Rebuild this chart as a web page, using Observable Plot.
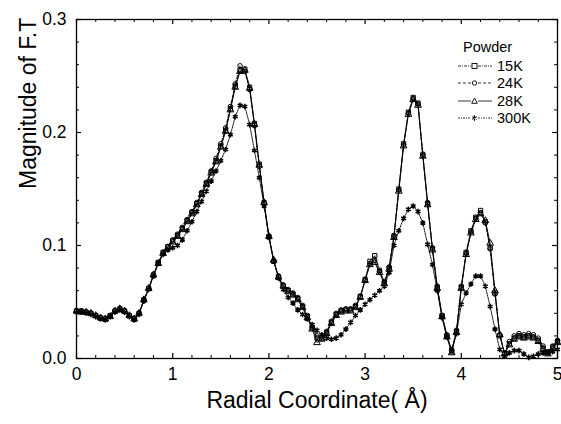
<!DOCTYPE html>
<html>
<head>
<meta charset="utf-8">
<script src="https://cdn.jsdelivr.net/npm/d3@7"></script>
<script src="https://cdn.jsdelivr.net/npm/@observablehq/plot@0.6"></script>
<style>
  html, body { margin: 0; padding: 0; background: #fff; }
  #wrap { position: relative; width: 561px; height: 424px; font-family: "Liberation Sans", Arial, sans-serif; }
  #legend { position: absolute; left: 456px; top: 38px; font-size: 14.5px; color: #000; }
  #legend .title { margin-left: 7px; height: 19px; line-height: 19px; }
  #legend .row { display: flex; align-items: center; height: 17.5px; }
  #legend svg { width: 38px; height: 12px; margin-right: 3px; }
</style>
</head>
<body>
<div id="wrap"><div id="chart"></div><div id="legend"></div></div>
<script>
// Radial coordinate (Å)
const radial = [0.00,0.05,0.10,0.15,0.20,0.25,0.30,0.35,0.40,0.45,0.50,0.55,0.60,0.65,0.70,0.75,0.80,0.85,0.90,0.95,
  1.00,1.05,1.10,1.15,1.20,1.25,1.30,1.35,1.40,1.45,1.50,1.55,1.60,1.65,1.70,1.75,1.80,1.85,1.90,1.95,
  2.00,2.05,2.10,2.15,2.20,2.25,2.30,2.35,2.40,2.45,2.50,2.55,2.60,2.65,2.70,2.75,2.80,2.85,2.90,2.95,
  3.00,3.05,3.10,3.15,3.20,3.25,3.30,3.35,3.40,3.45,3.50,3.55,3.60,3.65,3.70,3.75,3.80,3.85,3.90,3.95,
  4.00,4.05,4.10,4.15,4.20,4.25,4.30,4.35,4.40,4.45,4.50,4.55,4.60,4.65,4.70,4.75,4.80,4.85,4.90,4.95,5.00];

const ft15K = [.042,.042,.041,.040,.038,.036,.035,.038,.042,.044,.042,.038,.035,.040,.052,.062,.074,.085,.094,.099,
  .104,.109,.115,.122,.129,.137,.146,.155,.165,.175,.188,.202,.221,.241,.255,.256,.240,.208,.172,.138,
  .108,.086,.072,.064,.060,.057,.053,.046,.037,.027,.018,.018,.023,.032,.039,.042,.043,.043,.046,.055,
  .070,.086,.091,.078,.067,.080,.108,.150,.190,.218,.231,.226,.180,.137,.097,.063,.038,.020,.006,.024,
  .063,.094,.113,.125,.131,.121,.098,.058,.020,.004,.013,.018,.020,.019,.020,.019,.016,.009,.005,.010,.015];

const ft24K = [.042,.042,.041,.040,.038,.036,.035,.038,.042,.044,.042,.038,.035,.040,.051,.062,.073,.085,.093,.099,
  .105,.110,.116,.123,.130,.138,.147,.156,.166,.177,.190,.204,.223,.243,.259,.254,.238,.206,.170,.137,
  .107,.086,.073,.065,.061,.058,.054,.047,.038,.028,.020,.019,.024,.033,.040,.043,.044,.044,.047,.055,
  .069,.084,.087,.077,.068,.081,.109,.149,.189,.217,.230,.225,.181,.138,.098,.064,.038,.021,.007,.025,
  .064,.093,.112,.124,.129,.120,.097,.057,.021,.005,.015,.020,.022,.021,.022,.021,.018,.011,.006,.011,.016];

const ft28K = [.042,.041,.041,.040,.038,.036,.035,.037,.042,.044,.042,.038,.035,.040,.052,.062,.074,.084,.093,.098,
  .103,.108,.114,.121,.128,.136,.145,.154,.164,.174,.187,.201,.220,.240,.254,.255,.239,.207,.171,.138,
  .108,.087,.072,.064,.059,.056,.052,.045,.036,.026,.014,.017,.022,.031,.038,.041,.042,.042,.045,.054,
  .069,.083,.085,.076,.066,.079,.107,.148,.188,.216,.229,.224,.179,.136,.096,.062,.037,.019,.005,.023,
  .062,.092,.111,.123,.128,.122,.102,.060,.021,.004,.012,.017,.019,.018,.019,.018,.015,.008,.004,.009,.014];

const ft300K = [.041,.041,.040,.039,.037,.035,.034,.037,.041,.043,.041,.037,.034,.039,.051,.061,.073,.084,.092,.096,
  .098,.100,.105,.113,.121,.130,.139,.148,.157,.166,.175,.185,.198,.214,.224,.223,.207,.184,.160,.135,
  .108,.086,.071,.061,.054,.049,.043,.039,.035,.030,.025,.021,.018,.017,.018,.021,.026,.032,.038,.043,
  .048,.052,.056,.060,.064,.076,.100,.113,.124,.132,.135,.130,.120,.101,.083,.060,.036,.019,.008,.022,
  .048,.058,.066,.073,.073,.064,.046,.026,.008,.002,.005,.007,.007,.004,.001,.002,.004,.005,.005,.006,.008];

const seriesNames = ["15K", "24K", "28K", "300K"];
const seriesValues = [ft15K, ft24K, ft28K, ft300K];
const xMajor = [0, 1, 2, 3, 4, 5];
const xMinor = [0.2,0.4,0.6,0.8,1.2,1.4,1.6,1.8,2.2,2.4,2.6,2.8,3.2,3.4,3.6,3.8,4.2,4.4,4.6,4.8];
const yMajor = [0.0, 0.1, 0.2, 0.3];
const yMinor = [0.02,0.04,0.06,0.08,0.12,0.14,0.16,0.18,0.22,0.24,0.26,0.28];
const xTitle = "Radial Coordinate( Å)";
const yTitle = "Magnitude of F.T";
const legendTitle = "Powder";

const styles = {
  "15K":  {symbol: "square",   r: 2.4, dash: "3,1,1,1", sw: 1.0},
  "24K":  {symbol: "circle",   r: 2.3, dash: "3,2",     sw: 1.0},
  "28K":  {symbol: "triangle", r: 2.5, dash: null,      sw: 1.0},
  "300K": {symbol: "asterisk", r: 2.6, dash: "2,1,1,1", sw: 1.5}
};

const W = 561, H = 424, ML = 76, MR = 4, MT = 19, MB = 66;
const PW = W - ML - MR, PH = H - MT - MB;
const majLen = 5, minLen = 3;

const tables = seriesNames.map((name, k) => radial.map((x, i) => ({x, y: seriesValues[k][i], s: name})));

const font = "Liberation Sans, Arial, sans-serif";
const marks = [];
tables.forEach((t, k) => {
  const st = styles[seriesNames[k]];
  marks.push(Plot.line(t, {x: "x", y: "y", stroke: "black", strokeWidth: 0.9, strokeDasharray: st.dash}));
});
tables.forEach((t, k) => {
  const st = styles[seriesNames[k]];
  marks.push(Plot.dot(t, {x: "x", y: "y", symbol: () => st.symbol, r: st.r, stroke: "black", fill: "none", strokeWidth: st.sw}));
});

const tickMarks = [
  // inward ticks on all four sides
  Plot.tickX(xMajor, {x: d => d, insetTop: PH - majLen, stroke: "black", strokeWidth: 1.2}),
  Plot.tickX(xMinor, {x: d => d, insetTop: PH - minLen, stroke: "black", strokeWidth: 1}),
  Plot.tickX(xMajor, {x: d => d, insetBottom: PH - majLen, stroke: "black", strokeWidth: 1.2}),
  Plot.tickX(xMinor, {x: d => d, insetBottom: PH - minLen, stroke: "black", strokeWidth: 1}),
  Plot.tickY(yMajor, {y: d => d, insetRight: PW - majLen, stroke: "black", strokeWidth: 1.2}),
  Plot.tickY(yMinor, {y: d => d, insetRight: PW - minLen, stroke: "black", strokeWidth: 1}),
  Plot.tickY(yMajor, {y: d => d, insetLeft: PW - majLen, stroke: "black", strokeWidth: 1.2}),
  Plot.tickY(yMinor, {y: d => d, insetLeft: PW - minLen, stroke: "black", strokeWidth: 1})
];

const chart = Plot.plot({
  width: W, height: H,
  marginLeft: ML, marginRight: MR, marginTop: MT, marginBottom: MB,
  style: {fontFamily: font, background: "white", color: "black"},
  x: {domain: [0, 5]},
  y: {domain: [0, 0.3]},
  symbol: {type: "identity"},
  marks: [
    ...marks,
    ...tickMarks,
    Plot.frame({stroke: "black", strokeWidth: 1.3}),
    Plot.axisX(xMajor, {anchor: "bottom", tickSize: 0, tickPadding: 9, fontSize: 17.5, tickFormat: d => String(d), label: null}),
    Plot.axisY(yMajor, {anchor: "left", tickSize: 0, tickPadding: 10, fontSize: 17.5, tickFormat: d => d.toFixed(1), label: null}),
    Plot.text([xTitle], {text: d => d, frameAnchor: "bottom", dy: 49, fontSize: 23}),
    Plot.text([yTitle], {text: d => d, frameAnchor: "left", dx: -48, rotate: -90, fontSize: 23})
  ]
});
document.getElementById("chart").appendChild(chart);

// legend
const legend = document.getElementById("legend");
const ttl = document.createElement("div");
ttl.className = "title";
ttl.textContent = legendTitle;
legend.appendChild(ttl);
const symPaths = {
  square: '<rect x="16" y="3.5" width="5" height="5" fill="none" stroke="black" stroke-width="0.9"/>',
  circle: '<circle cx="18.5" cy="6" r="2.2" fill="none" stroke="black" stroke-width="0.9"/>',
  triangle: '<path d="M18.5,3 L21.3,8.3 L15.7,8.3 Z" fill="none" stroke="black" stroke-width="0.9"/>',
  asterisk: '<path d="M18.5,3.3 V8.7 M16.2,4.6 L20.8,7.4 M16.2,7.4 L20.8,4.6" fill="none" stroke="black" stroke-width="1.1"/>'
};
seriesNames.forEach(name => {
  const st = styles[name];
  const row = document.createElement("div");
  row.className = "row";
  const dash = st.dash ? `stroke-dasharray="${st.dash}"` : "";
  row.innerHTML = `<svg viewBox="0 0 38 12"><line x1="2" y1="6" x2="15" y2="6" stroke="black" stroke-width="0.8" ${dash}/><line x1="22" y1="6" x2="36" y2="6" stroke="black" stroke-width="0.8" ${dash}/>${symPaths[st.symbol]}</svg><span>${name}</span>`;
  legend.appendChild(row);
});
</script>
</body>
</html>
